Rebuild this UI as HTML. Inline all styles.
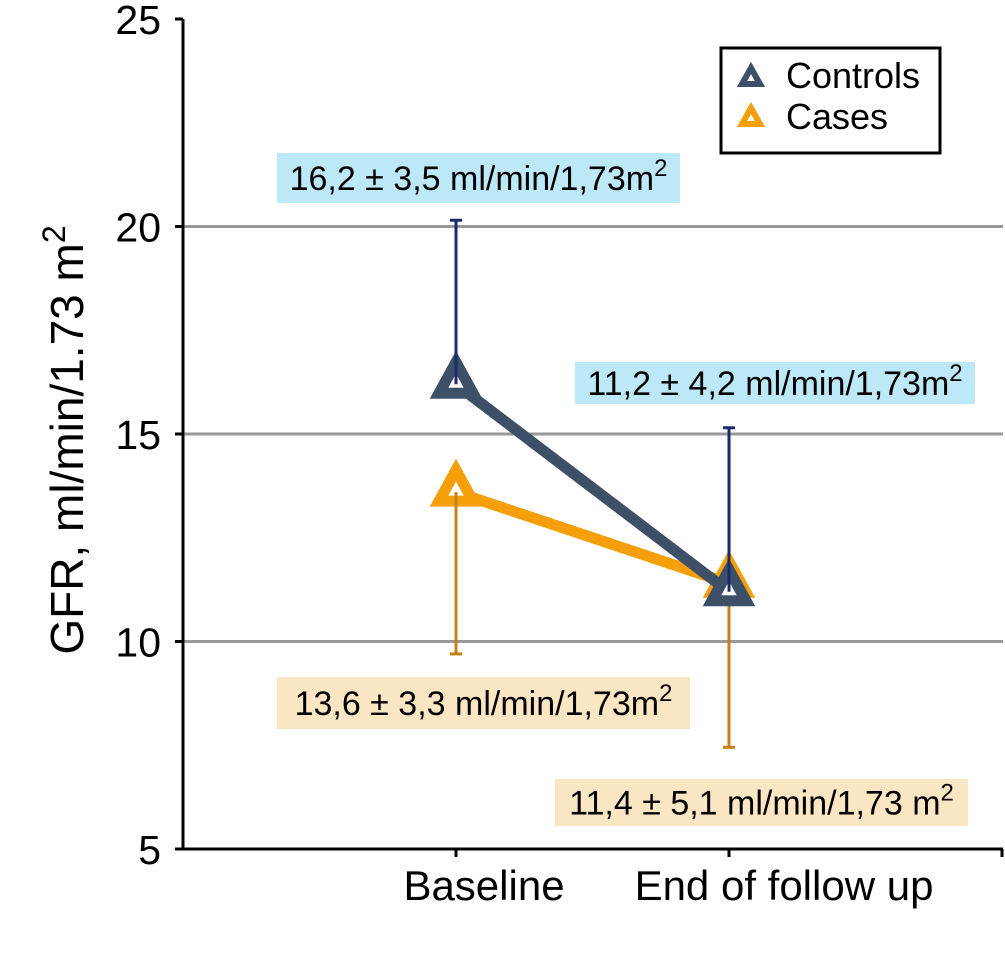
<!DOCTYPE html>
<html><head><meta charset="utf-8"><style>
body{margin:0;background:#fff;}
svg text{font-family:"Liberation Sans",Arial,sans-serif;}
</style></head><body>
<svg id="chart" width="1005" height="959" xmlns="http://www.w3.org/2000/svg">
<g id="grid"></g>
<g id="axes"></g>
<g id="series"></g>
<g id="notes"></g>
<text transform="translate(83,440) rotate(-90)" text-anchor="middle" font-size="46">GFR, ml/min/1.73 m<tspan dy="-18" font-size="32">2</tspan></text>
<g>
<rect x="721" y="48" width="219" height="105" fill="#fff" stroke="#000" stroke-width="3"/>
<polygon points="751,68 742,84 760,84" fill="#fff" stroke="#3d5068" stroke-width="6"/>
<text x="786" y="88" font-size="36">Controls</text>
<polygon points="751,108 742,124 760,124" fill="#fff" stroke="#f5a00a" stroke-width="6"/>
<text x="786" y="129" font-size="36">Cases</text>
</g>
</svg>
<script>
const categories=["Baseline","End of follow up"];
const controls=[16.2,11.2];
const controlsUpper=[20.15,15.15];
const cases=[13.6,11.4];
const casesLower=[9.7,7.45];
const yTicks=[5,10,15,20,25];
const notesText=["16,2 ± 3,5 ml/min/1,73m","11,2 ± 4,2 ml/min/1,73m","13,6 ± 3,3 ml/min/1,73m","11,4 ± 5,1 ml/min/1,73 m"];
const NS="http://www.w3.org/2000/svg";
const x0=183,step=273,yTop=19,yBot=849;
const x=i=>x0+step*(i+1);
const y=v=>yBot-(v-5)/20*(yBot-yTop);
function mk(p,tag,a){const e=document.createElementNS(NS,tag);for(const k in a)e.setAttribute(k,a[k]);document.getElementById(p).appendChild(e);return e;}
yTicks.forEach(t=>{
 if(t!==5&&t!==25){const l=mk('grid','line',{x1:x0,x2:1003,y1:y(t),y2:y(t),stroke:'#999','stroke-width':3});
 
 }
 const tx=mk('axes','text',{x:161,y:y(t)+15,'text-anchor':'end','font-size':41});tx.textContent=t;
 
 
 mk('axes','line',{x1:x0-8,x2:x0,y1:y(t),y2:y(t),stroke:'#000','stroke-width':3});
});
mk('axes','line',{x1:x0,x2:x0,y1:yTop,y2:yBot+1,stroke:'#000','stroke-width':3});
mk('axes','line',{x1:x0,x2:1003,y1:yBot,y2:yBot,stroke:'#000','stroke-width':3});
[0,1,2].forEach(i=>mk('axes','line',{x1:x(i),x2:x(i),y1:yBot,y2:yBot+8,stroke:'#000','stroke-width':3}));
categories.forEach((c,i)=>{const t=mk('axes','text',{x:x(i)+(i===0?28:55),y:900,'text-anchor':'middle','font-size':42});t.textContent=c;
 
 });
function series(vals,bar,color,barColor,name){
 vals.forEach((v,i)=>{const b=mk('series','line',{x1:x(i),x2:x(i),y1:y(v),y2:y(bar[i]),stroke:barColor,'stroke-width':3});
  
  
  mk('series','line',{x1:x(i)-6,x2:x(i)+6,y1:y(bar[i]),y2:y(bar[i]),stroke:barColor,'stroke-width':3});});
 const l=mk('series','polyline',{points:vals.map((v,i)=>x(i)+','+y(v)).join(' '),fill:'none',stroke:color,'stroke-width':11});
 
 
 vals.forEach((v,i)=>{const cx=x(i),cy=y(v);
  const p=mk('series','polygon',{points:`${cx},${cy-22} ${cx-17},${cy+9} ${cx+17},${cy+9}`,fill:'#fff',stroke:color,'stroke-width':11,'stroke-linejoin':'miter'});
  
  
  mk('series','line',{x1:cx,x2:cx,y1:cy,y2:y(bar[i]),stroke:barColor,'stroke-width':3});});
}
series(cases,casesLower,'#f5a00a','#c8801a','cases');
series(controls,controlsUpper,'#3d5068','#1a2a6c','controls');
const boxes=[[277,153,403,50,'#bde8f7'],[575,362,400,42,'#bde8f7'],[277,677,413,52,'#fbe6c3'],[555,779,413,47,'#fbe6c3']];
boxes.forEach((b,i)=>{mk('notes','rect',{x:b[0],y:b[1],width:b[2],height:b[3],fill:b[4]});
 const t=mk('notes','text',{x:b[0]+b[2]/2,y:b[1]+b[3]/2+12,'text-anchor':'middle','font-size':34});
 t.textContent=notesText[i];
 
 
 const s=document.createElementNS(NS,'tspan');s.setAttribute('dy','-14');s.setAttribute('font-size','24');s.textContent='2';t.appendChild(s);});
</script>
</body></html>
